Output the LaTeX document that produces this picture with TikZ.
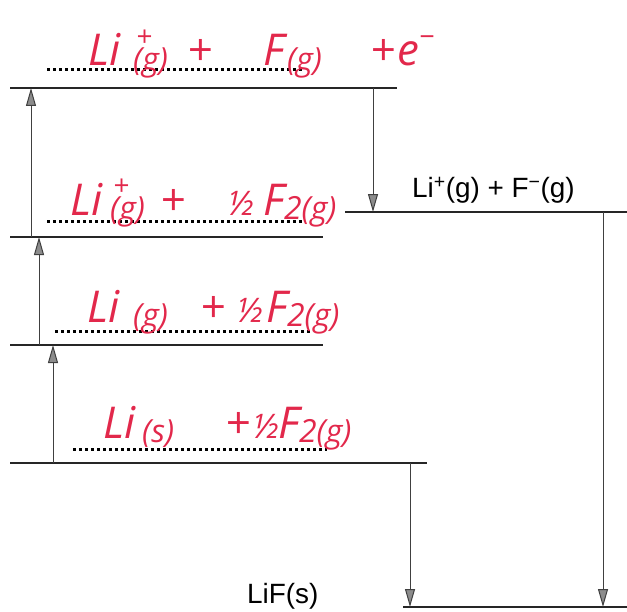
\documentclass[tikz,border=0pt]{standalone}
\usepackage{fontspec}
\newfontfamily\printfont{Liberation Sans}
\newfontfamily\handfont{Open Sans}
\usetikzlibrary{arrows.meta}
\definecolor{handred}{RGB}{226,40,75}
% fixed-width slot for one piece of the hand-written labels
\newcommand\hw[2]{\makebox[#1bp][l]{#2}}
\newcommand\hsub[1]{{\fontsize{32}{36}\selectfont\raisebox{-0.25ex}{#1}}}
\newcommand\hsup[1]{{\fontsize{28}{32}\selectfont\raisebox{1.3ex}{#1}}}
\newcommand\supsub[2]{\makebox[0pt][l]{\hspace{3bp}\hsup{#1}}\hsub{#2}}
\newcommand\half{{\fontsize{34}{38}\selectfont ½}}

\begin{document}
\begin{tikzpicture}[x=1bp, y={(0bp,-1bp)},
    level/.style={line width=1.8bp, black!85},
    guide/.style={line width=3bp, dash pattern=on 2.8bp off 3.2bp, black},
    arr/.style={line width=1bp, black!75, -{Triangle[length=18bp, width=10bp, fill=gray!90]}},
    hand/.style={text=handred, font=\handfont\itshape\fontsize{44}{48}\selectfont, inner sep=0pt, anchor=base west},
    printed/.style={font=\printfont\fontsize{28}{32}\selectfont, inner sep=0pt, anchor=base west},
  ]
  \useasboundingbox (0,0) rectangle (627,612);

  % energy levels (left column)
  \draw[level] (10,88) coordinate (lvGas) -- (397,88);
  \draw[level] (10,237) coordinate (lvIon) -- (323,237);
  \draw[level] (10,345) coordinate (lvAtom) -- (323,345);
  \draw[level] (10,463) coordinate (lvSolid) -- (427,463);
  % right column
  \draw[level] (345,212) coordinate (lvIons) -- (627,212);
  \draw[level] (403,607) coordinate (lvLiF) -- (627,607);

  % dotted lines to write on
  \draw[guide] (47,70) -- (303,70);
  \draw[guide] (47,221) -- (303,221);
  \draw[guide] (55,331) -- (310,331);
  \draw[guide] (73,449) -- (327,449);

  % steps up the left, down the right
  \draw[arr] (31,0 |- lvIon) -- (31,0 |- lvGas);
  \draw[arr] (39,0 |- lvAtom) -- (39,0 |- lvIon);
  \draw[arr] (53,0 |- lvSolid) -- (53,0 |- lvAtom);
  \draw[arr] (373,0 |- lvGas) -- (373,0 |- lvIons);
  \draw[arr] (410,0 |- lvSolid) -- (410,0 |- lvLiF);
  \draw[arr] (603,0 |- lvIons) -- (603,0 |- lvLiF);

  % printed labels
  \node[printed] (ions) at (412,197) {Li\textsuperscript{+}(g) + F\textsuperscript{−}(g)};
  \node[printed] (lif) at (247,603) {LiF(s)};

  % hand-written labels
  \node[hand] (gas) at (88,66)
    {\hw{45}{Li}\hw{54}{\supsub{+}{(g)}}\hw{76}{+}\hw{24}{F}\hw{83}{\hsub{(g)}}\hw{27}{+}e\hsup{−}};
  \node[hand] (ion) at (70,215)
    {\hw{40}{Li}\hw{50}{\supsub{+}{(g)}}\hw{67}{+}\hw{36}{\half}F\hsub{2(g)}};
  \node[hand] (atom) at (87,322)
    {\hw{46}{Li}\hw{67}{\hsub{(g)}}\hw{36}{+}\hw{30}{\half}F\hsub{2(g)}};
  \node[hand] (solid) at (103,438)
    {\hw{39}{Li}\hw{83}{\hsub{(s)}}\hw{27}{+}\hw{26}{\half}F\hsub{2(g)}};
\end{tikzpicture}
\end{document}
